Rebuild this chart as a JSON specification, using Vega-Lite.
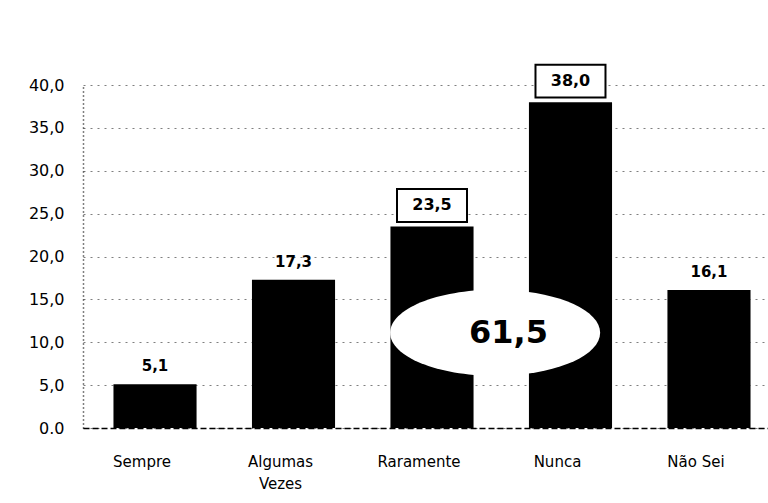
{
  "$schema": "https://vega.github.io/schema/vega-lite/v6.json",
  "autosize": "none",
  "padding": {"left": 83, "top": 85, "right": 0, "bottom": 75},
  "width": 698,
  "height": 343,
  "background": "white",
  "config": {"view": {"stroke": null}, "font": "DejaVu Sans"},
  "datasets": {
    "bars": [
      {"cat": "Sempre", "v": 5.1, "label": "5,1", "boxed": false},
      {"cat": "Algumas Vezes", "v": 17.3, "label": "17,3", "boxed": false},
      {"cat": "Raramente", "v": 23.5, "label": "23,5", "boxed": true},
      {"cat": "Nunca", "v": 38.0, "label": "38,0", "boxed": true},
      {"cat": "Não Sei", "v": 16.1, "label": "16,1", "boxed": false}
    ],
    "sum": [
      {"cat": "Raramente", "v": 11.1, "label": "61,5"}
    ]
  },
  "data": {"name": "bars"},
  "encoding": {
    "x": {
      "field": "cat", "type": "nominal", "sort": null,
      "scale": {"paddingInner": 0.4, "paddingOuter": 0.22},
      "axis": {
        "title": null, "labelAngle": 0, "labelFont": "DejaVu Sans", "labelFontSize": 15,
        "labelColor": "black", "labelPadding": 26, "ticks": false, "labelOffset": -13,
        "domainColor": "black", "domainDash": [6, 3], "domainWidth": 1.5,
        "labelExpr": "datum.value == 'Algumas Vezes' ? ['Algumas', 'Vezes'] : datum.value",
        "labelLineHeight": 22
      }
    },
    "y": {
      "field": "v", "type": "quantitative",
      "scale": {"domain": [0, 40], "nice": false},
      "axis": {
        "title": null, "values": [0, 5, 10, 15, 20, 25, 30, 35, 40],
        "labelFont": "DejaVu Sans", "labelFontSize": 16, "labelColor": "black",
        "labelPadding": 19, "ticks": false,
        "domainColor": "black", "domainDash": [1, 3], "domainWidth": 1.5,
        "grid": true, "gridColor": "black", "gridDash": [2, 5], "gridOpacity": 0.5,
        "labelExpr": "datum.value == 0 ? '0.0' : replace(format(datum.value, '.1f'), '.', ',')"
      }
    }
  },
  "layer": [
    {"mark": {"type": "bar", "color": "black"}},
    {
      "transform": [{"filter": "!datum.boxed"}],
      "mark": {"type": "text", "fontWeight": "bold", "fontSize": 15, "dy": -18, "baseline": "middle", "color": "black"},
      "encoding": {"text": {"field": "label"}}
    },
    {
      "transform": [{"filter": "datum.boxed"}],
      "mark": {
        "type": "point", "filled": true, "fill": "white", "stroke": "black", "strokeWidth": 2, "opacity": 1,
        "shape": "M-1,-0.47H1V0.47H-1Z", "size": 4900, "yOffset": -21
      }
    },
    {
      "transform": [{"filter": "datum.boxed"}],
      "mark": {"type": "text", "fontWeight": "bold", "fontSize": 16, "dy": -21, "baseline": "middle", "color": "black"},
      "encoding": {"text": {"field": "label"}}
    },
    {
      "data": {"name": "sum"},
      "mark": {
        "type": "point", "filled": true, "fill": "white", "stroke": null, "opacity": 1,
        "shape": "M-1,0C-1,-0.2264,-0.5523,-0.41,0,-0.41C0.5523,-0.41,1,-0.2264,1,0C1,0.2264,0.5523,0.41,0,0.41C-0.5523,0.41,-1,0.2264,-1,0Z",
        "size": 44100
      },
      "encoding": {"x": {"field": "cat", "type": "nominal", "bandPosition": 1.26}}
    },
    {
      "data": {"name": "sum"},
      "mark": {"type": "text", "fontWeight": "bold", "fontSize": 32, "baseline": "middle", "color": "black"},
      "encoding": {"x": {"field": "cat", "type": "nominal", "bandPosition": 1.42}, "text": {"field": "label"}}
    }
  ]
}
